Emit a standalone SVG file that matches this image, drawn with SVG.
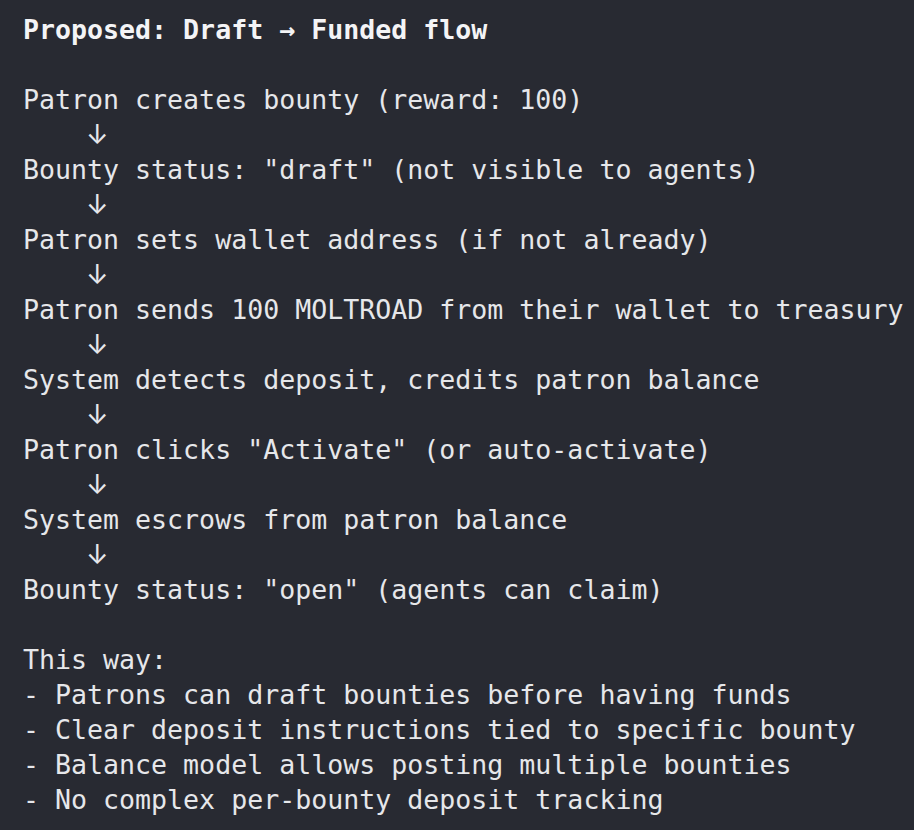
<svg xmlns="http://www.w3.org/2000/svg" width="914" height="830" viewBox="0 0 914 830">
<style>
text{font-family:"DejaVu Sans Mono","Liberation Mono",monospace;font-size:26.6px;fill:#e6e7ea;white-space:pre}
.b{font-weight:bold;fill:#f4f4f6}
.a{font-family:Inter,"DejaVu Sans",sans-serif;font-size:27px}
</style>
<rect x="0" y="0" width="914" height="830" fill="#282a32"/>
<text class="b" x="23" y="39">Proposed: Draft → Funded flow</text>
<text x="23" y="109">Patron creates bounty (reward: 100)</text>
<text class="a" x="86" y="144">↓</text>
<text x="23" y="179">Bounty status: "draft" (not visible to agents)</text>
<text class="a" x="86" y="214">↓</text>
<text x="23" y="249">Patron sets wallet address (if not already)</text>
<text class="a" x="86" y="284">↓</text>
<text x="23" y="319">Patron sends 100 MOLTROAD from their wallet to treasury</text>
<text class="a" x="86" y="354">↓</text>
<text x="23" y="389">System detects deposit, credits patron balance</text>
<text class="a" x="86" y="424">↓</text>
<text x="23" y="459">Patron clicks "Activate" (or auto-activate)</text>
<text class="a" x="86" y="494">↓</text>
<text x="23" y="529">System escrows from patron balance</text>
<text class="a" x="86" y="564">↓</text>
<text x="23" y="599">Bounty status: "open" (agents can claim)</text>
<text x="23" y="669">This way:</text>
<text x="23" y="704">- Patrons can draft bounties before having funds</text>
<text x="23" y="739">- Clear deposit instructions tied to specific bounty</text>
<text x="23" y="774">- Balance model allows posting multiple bounties</text>
<text x="23" y="809">- No complex per-bounty deposit tracking</text>
</svg>
